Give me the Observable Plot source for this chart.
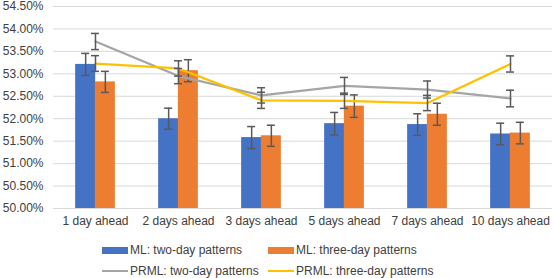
<!DOCTYPE html>
<html><head><meta charset="utf-8">
<script src="https://cdn.jsdelivr.net/npm/d3@7"></script>
<script src="https://cdn.jsdelivr.net/npm/@observablehq/plot@0.6"></script>
<style>
body{margin:0;background:#fff;font-family:"Liberation Sans",Arial,sans-serif;}
#wrap{position:relative;width:553px;height:278px;overflow:hidden;}
#legend{position:absolute;left:0;top:0;width:553px;height:278px;pointer-events:none;font-size:12px;color:#404040;}
.item{position:absolute;display:flex;align-items:center;white-space:nowrap;}
.sw{width:26px;height:7px;margin-right:2px;}
.ln{width:26px;height:2.5px;margin-right:2px;}
</style></head>
<body><div id="wrap"><div id="legend"></div></div>
<script>
const categories = ["1 day ahead","2 days ahead","3 days ahead","5 days ahead","7 days ahead","10 days ahead"];
const mlTwo = [53.21, 52.00, 51.58, 51.89, 51.87, 51.66];
const mlTwoErr = [0.245, 0.235, 0.245, 0.25, 0.24, 0.24];
const mlThree = [52.82, 53.07, 51.62, 52.28, 52.10, 51.68];
const mlThreeErr = [0.235, 0.245, 0.235, 0.25, 0.245, 0.24];
const prmlTwo = [53.72, 52.95, 52.52, 52.73, 52.65, 52.45];
const prmlTwoErr = [0.18, 0.17, 0.17, 0.19, 0.19, 0.185];
const prmlThree = [53.23, 53.12, 52.41, 52.40, 52.35, 53.22];
const prmlThreeErr = [0.175, 0.17, 0.18, 0.17, 0.17, 0.18];
const yTicks = [50, 50.5, 51, 51.5, 52, 52.5, 53, 53.5, 54, 54.5];
const seriesNames = ["ML: two-day patterns","ML: three-day patterns","PRML: two-day patterns","PRML: three-day patterns"];
const colors = ["#4472C4","#ED7D31","#A5A5A5","#FFC000"];

const mk = (vals, errs) => categories.map((c,i)=>({c, v:vals[i], e:errs[i]}));
const dBlue = mk(mlTwo, mlTwoErr), dOrange = mk(mlThree, mlThreeErr);
const dGray = mk(prmlTwo, prmlTwoErr), dYellow = mk(prmlThree, prmlThreeErr);
const off = 9.85, errC = "#595959";

function errMarks(data, dx){
  return [
    Plot.ruleX(data, {x:"c", y1:d=>d.v-d.e, y2:d=>d.v+d.e, dx, stroke:errC, strokeWidth:1.5}),
    Plot.tickY(data, {x:"c", y:d=>d.v-d.e, dx, stroke:errC, strokeWidth:1.5, insetLeft:6, insetRight:6}),
    Plot.tickY(data, {x:"c", y:d=>d.v+d.e, dx, stroke:errC, strokeWidth:1.5, insetLeft:6, insetRight:6})
  ];
}

const chart = Plot.plot({
  width:553, height:234,
  marginTop:6, marginBottom:26, marginLeft:53, marginRight:1,
  style:{fontFamily:'"Liberation Sans",Arial,sans-serif', fontSize:"12px", color:"#404040", background:"transparent"},
  x:{type:"band", domain:categories, paddingInner:0.763, paddingOuter:0.387, label:null},
  y:{domain:[50,54.5], label:null},
  marks:[
    Plot.gridY(yTicks, {stroke:"#d9d9d9", strokeOpacity:1, strokeWidth:1}),
    Plot.axisY(yTicks, {tickSize:0, tickPadding:10, tickFormat:d=>d.toFixed(2)+"%", label:null, fill:"#404040"}),
    Plot.axisX({tickSize:0, tickPadding:8, label:null, fill:"#404040"}),
    Plot.barY(dBlue, {x:"c", y1:50, y2:"v", dx:-off, fill:colors[0]}),
    Plot.barY(dOrange, {x:"c", y1:50, y2:"v", dx:off, fill:colors[1]}),
    ...errMarks(dBlue, -off),
    ...errMarks(dOrange, off),
    Plot.lineY(dGray, {x:"c", y:"v", stroke:colors[2], strokeWidth:2.25}),
    Plot.lineY(dYellow, {x:"c", y:"v", stroke:colors[3], strokeWidth:2.25}),
    ...errMarks(dGray, 0),
    ...errMarks(dYellow, 0)
  ]
});
chart.style.position="absolute"; chart.style.left="0"; chart.style.top="0"; chart.style.overflow="visible";
document.getElementById("wrap").prepend(chart);

const leg = document.getElementById("legend");
const pos = [[102,250],[268,250],[102,271],[268,271]];
seriesNames.forEach((n,i)=>{
  const it = document.createElement("div");
  it.className="item";
  it.style.left=pos[i][0]+"px"; it.style.top=(pos[i][1]-8)+"px"; it.style.height="16px";
  const s = document.createElement("div");
  s.className = i<2 ? "sw" : "ln";
  s.style.background = colors[i];
  it.appendChild(s);
  const t = document.createElement("span"); t.textContent = n;
  it.appendChild(t);
  leg.appendChild(it);
});
</script></body></html>
